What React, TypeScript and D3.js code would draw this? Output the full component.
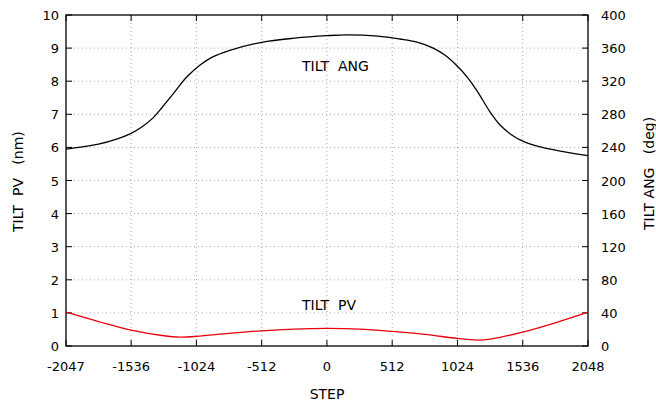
import React from "react";
import * as d3 from "d3";

const W = 656;
const H = 403;

const xTicks = [-2047, -1536, -1024, -512, 0, 512, 1024, 1536, 2048];
const yTicks = [0, 1, 2, 3, 4, 5, 6, 7, 8, 9, 10];
const y2Ticks = [0, 40, 80, 120, 160, 200, 240, 280, 320, 360, 400];

const pvSteps = [-2047, -1792, -1536, -1280, -1153, -1024, -768, -512, -256, 0, 256, 512, 768, 1024, 1175, 1280, 1536, 1792, 2048];
const pvValues = [1.02, 0.74, 0.48, 0.31, 0.27, 0.29, 0.38, 0.46, 0.51, 0.53, 0.51, 0.44, 0.35, 0.23, 0.18, 0.21, 0.42, 0.7, 1.02];

const angSteps = [-2047, -1792, -1650, -1536, -1450, -1362, -1300, -1200, -1100, -1000, -900, -768, -512, -256, 0, 160, 400, 573, 700, 834, 930, 1024, 1100, 1175, 1279, 1358, 1450, 1536, 1650, 1800, 2048];
const angValues = [238, 244, 250, 257, 265, 276, 287, 306, 325, 339, 349, 357, 367, 372, 375, 376, 374.5, 371, 367.5, 360, 351, 338, 325, 309, 283, 267, 255, 247.5, 241.5, 236.5, 230];

const FONT = "'DejaVu Sans', sans-serif";

export default function App() {
  const m = { left: 66, right: 588, top: 15, bottom: 346 };
  const x = d3.scaleLinear().domain([-2047, 2048]).range([m.left, m.right]);
  const y = d3.scaleLinear().domain([0, 10]).range([m.bottom, m.top]);
  const y2 = d3.scaleLinear().domain([0, 400]).range([m.bottom, m.top]);

  const pvLine = d3
    .line<number>()
    .x((_, i) => x(pvSteps[i]))
    .y((d) => y(d))
    .curve(d3.curveCatmullRom.alpha(0.5));
  const angLine = d3
    .line<number>()
    .x((_, i) => x(angSteps[i]))
    .y((d) => y2(d))
    .curve(d3.curveCatmullRom.alpha(0.5));

  const tl = 6;
  const grid = "#a8a8a8";
  const fs = 13;
  const lfs = 14;

  return (
    <div style={{ position: "absolute", left: 0, top: 0 }}>
      <svg width={W} height={H} style={{ display: "block", background: "#fff" }} fontFamily={FONT}>
        {xTicks.slice(1, -1).map((t) => (
          <line key={"gx" + t} x1={x(t)} x2={x(t)} y1={m.top} y2={m.bottom} stroke={grid} strokeWidth={1} strokeDasharray="1,3" />
        ))}
        {yTicks.slice(1, -1).map((t) => (
          <line key={"gy" + t} x1={m.left} x2={m.right} y1={y(t)} y2={y(t)} stroke={grid} strokeWidth={1} strokeDasharray="1,3" />
        ))}
        {xTicks.map((t) => (
          <g key={"tx" + t}>
            <line x1={x(t)} x2={x(t)} y1={m.bottom} y2={m.bottom - tl} stroke="#000" />
            <line x1={x(t)} x2={x(t)} y1={m.top} y2={m.top + tl} stroke="#000" />
            <text x={x(t)} y={370.5} fontSize={fs} textAnchor="middle" fill="#000">
              {t}
            </text>
          </g>
        ))}
        {yTicks.map((t) => (
          <g key={"ty" + t}>
            <line x1={m.left} x2={m.left + tl} y1={y(t)} y2={y(t)} stroke="#000" />
            <text x={59} y={y(t) + 5} fontSize={fs} textAnchor="end" fill="#000">
              {t}
            </text>
          </g>
        ))}
        {y2Ticks.map((t) => (
          <g key={"ty2" + t}>
            <line x1={m.right} x2={m.right - tl} y1={y2(t)} y2={y2(t)} stroke="#000" />
            <text x={601} y={y2(t) + 5} fontSize={fs} textAnchor="start" fill="#000">
              {t}
            </text>
          </g>
        ))}
        <rect x={m.left} y={m.top} width={m.right - m.left} height={m.bottom - m.top} fill="none" stroke="#000" strokeWidth={1.3} />
        <path d={angLine(angValues) || ""} fill="none" stroke="#000" strokeWidth={1.3} />
        <path d={pvLine(pvValues) || ""} fill="none" stroke="#e8000b" strokeWidth={1.3} />
        <text x={302} y={70.5} fontSize={lfs} fill="#000" style={{ whiteSpace: "pre" }}>
          {"TILT  ANG"}
        </text>
        <text x={302} y={310} fontSize={lfs} fill="#000" style={{ whiteSpace: "pre" }}>
          {"TILT  PV"}
        </text>
        <text x={327} y={399} fontSize={lfs} textAnchor="middle" fill="#000">
          STEP
        </text>
        <text transform="translate(23,232) rotate(-90)" fontSize={lfs} textAnchor="start" fill="#000" style={{ whiteSpace: "pre" }}>
          {"TILT  PV   (nm)"}
        </text>
        <text transform="translate(654,230) rotate(-90)" fontSize={lfs} textAnchor="start" fill="#000" style={{ whiteSpace: "pre" }}>
          {"TILT ANG   (deg)"}
        </text>
      </svg>
    </div>
  );
}
